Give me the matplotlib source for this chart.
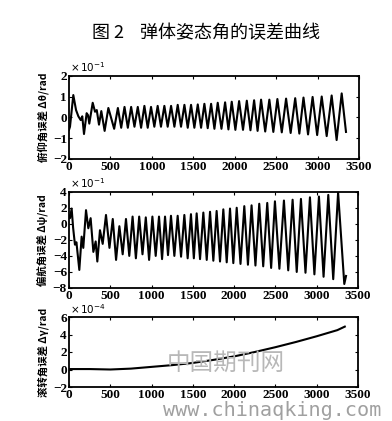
import matplotlib
matplotlib.use("Agg")
import matplotlib.pyplot as plt
import numpy as np

plt.rcParams['font.family'] = ['Noto Sans CJK SC', 'DejaVu Sans']

# ---------------- data ----------------
# Pitch error (x 10^-1 rad): early transient, then peaks / troughs
pitch_early_x = [0, 12, 52, 85, 113, 141, 160, 181, 213, 230, 245, 286, 314, 335, 362, 390, 430]
pitch_early_y = [-0.6, -0.45, 1.07, 0.35, 0.05, -0.13, 0.05, -0.8, 0.2, 0.1, -0.3, 0.7, 0.27, 0.35, -0.35, 0.3, -0.65]
pitch_peak_x = [475, 590, 670, 750, 830, 910, 990, 1070, 1151, 1232, 1312, 1393, 1473, 1554, 1634,
                1715, 1795, 1884, 1964, 2053, 2146, 2234, 2318, 2418, 2515, 2620, 2730, 2830, 2940,
                3050, 3170, 3291]
pitch_peak_y = [0.45, 0.45, 0.5, 0.5, 0.5, 0.55, 0.5, 0.55, 0.55, 0.55, 0.6, 0.6, 0.6, 0.62, 0.65,
                0.65, 0.7, 0.72, 0.75, 0.78, 0.8, 0.82, 0.85, 0.85, 0.88, 0.9, 0.92, 0.95, 0.98,
                1.0, 1.05, 1.15]
pitch_trough_x = [545, 630, 710, 790, 870, 950, 1030, 1110, 1191, 1272, 1352, 1433, 1513, 1594, 1674,
                  1755, 1840, 1924, 2008, 2100, 2190, 2276, 2368, 2466, 2568, 2675, 2780, 2885, 2995,
                  3110, 3230]
pitch_trough_y = [-0.55, -0.5, -0.5, -0.45, -0.5, -0.5, -0.45, -0.45, -0.45, -0.45, -0.45, -0.5, -0.5,
                  -0.5, -0.52, -0.55, -0.55, -0.58, -0.6, -0.6, -0.62, -0.65, -0.68, -0.7, -0.72,
                  -0.75, -0.78, -0.82, -0.85, -0.9, -1.09]
pitch_end_x = [3343]
pitch_end_y = [-0.7]

# Yaw error (x 10^-1 rad)
yaw_early_x = [0, 12, 32, 50, 72, 90, 125, 153, 173, 206, 234, 262, 295, 323, 343, 375, 408]
yaw_early_y = [1.0, 0.7, 1.9, -0.5, -2.6, -2.3, -5.75, -1.6, -3.0, 1.7, -0.56, 0.7, -3.5, -2.2, -4.7, -0.8, -2.5]
yaw_peak_x = [448, 530, 610, 690, 770, 850, 930, 1010, 1090, 1163, 1235, 1316, 1397, 1477, 1546,
              1627, 1708, 1788, 1869, 1950, 2031, 2123, 2211, 2304, 2401, 2494, 2603, 2708, 2809,
              2918, 3027, 3140, 3259]
yaw_peak_y = [1.1, 0.6, -0.3, 0.6, 0.9, 0.9, 0.8, 0.9, 0.9, 0.9, 1.0, 1.0, 1.1, 1.2, 1.3,
              1.4, 1.5, 1.6, 1.8, 1.9, 2.0, 2.2, 2.3, 2.5, 2.6, 2.8, 2.9, 3.0, 3.1,
              3.3, 3.4, 3.6, 3.9]
yaw_trough_x = [490, 570, 650, 730, 810, 890, 970, 1050, 1127, 1199, 1276, 1357, 1437, 1512, 1587,
                1668, 1748, 1829, 1910, 1990, 2077, 2167, 2258, 2352, 2448, 2548, 2655, 2758, 2864,
                2972, 3083, 3200, 3334]
yaw_trough_y = [-3.0, -4.5, -3.8, -4.0, -4.3, -3.8, -4.5, -4.0, -4.4, -3.9, -4.0, -4.1, -4.3, -4.3,
                -4.4, -4.5, -4.6, -4.7, -4.8, -4.9, -5.0, -5.1, -5.2, -5.3, -5.5, -5.6, -5.8, -6.0,
                -6.1, -6.3, -6.6, -6.9, -7.5]
yaw_end_x = [3355]
yaw_end_y = [-6.5]

# Roll error (x 10^-4 rad)
roll_x = [0, 250, 500, 750, 1000, 1250, 1500, 1750, 2000, 2250, 2500, 2750, 3000, 3250, 3340]
roll_y = [0.05, 0.05, 0.0, 0.1, 0.3, 0.5, 0.75, 1.1, 1.5, 2.0, 2.55, 3.15, 3.8, 4.5, 4.9]

x_ticks = [0, 500, 1000, 1500, 2000, 2500, 3000, 3500]
title = "图 2    弹体姿态角的误差曲线"
ylabels = ["俯仰角误差 Δθ/rad", "偏航角误差 Δψ/rad", "滚转角误差 Δγ/rad"]
exps = [r"$\times\,10^{-1}$", r"$\times\,10^{-1}$", r"$\times\,10^{-4}$"]


def combine(ex, ey, px, py, tx, ty, zx, zy):
    xs = list(ex) + list(px) + list(tx) + list(zx)
    ys = list(ey) + list(py) + list(ty) + list(zy)
    order = np.argsort(xs, kind="stable")
    return np.array(xs)[order], np.array(ys)[order]


pitch_x, pitch_y = combine(pitch_early_x, pitch_early_y, pitch_peak_x, pitch_peak_y,
                           pitch_trough_x, pitch_trough_y, pitch_end_x, pitch_end_y)
yaw_x, yaw_y = combine(yaw_early_x, yaw_early_y, yaw_peak_x, yaw_peak_y,
                       yaw_trough_x, yaw_trough_y, yaw_end_x, yaw_end_y)

fig = plt.figure(figsize=(3.92, 4.21), dpi=100)
fig.patch.set_facecolor("white")

W, H = 392.0, 421.0
boxes = [(69, 359, 75.7, 159), (69, 358, 191.7, 288), (69, 358, 317, 387)]
axes = []
for (l, r, t, b) in boxes:
    ax = fig.add_axes([l / W, 1 - b / H, (r - l) / W, (b - t) / H])
    axes.append(ax)

series = [(pitch_x, pitch_y), (yaw_x, yaw_y), (roll_x, roll_y)]
ylims = [(-2, 2), (-8, 4), (-2, 6)]
yticks = [[-2, -1, 0, 1, 2], [-8, -6, -4, -2, 0, 2, 4], [-2, 0, 2, 4, 6]]

tick_font = dict(family="Liberation Serif", weight="bold", size=9.5)
for ax, (sx, sy), yl, yt, lab, ex in zip(axes, series, ylims, yticks, ylabels, exps):
    ax.plot(sx, sy, color="black", lw=1.5, solid_joinstyle="round")
    ax.set_xlim(0, 3500)
    ax.set_ylim(*yl)
    ax.set_xticks(x_ticks)
    ax.set_yticks(yt)
    ax.set_xticklabels([str(v) for v in x_ticks], fontdict=tick_font)
    ax.set_yticklabels([("−" + str(-v)) if v < 0 else str(v) for v in yt], fontdict=tick_font)
    ax.tick_params(direction="in", length=2.5, width=0.8, pad=1.5, top=True, right=True)
    for s in ax.spines.values():
        s.set_linewidth(1.3)
    ax.set_ylabel(lab, fontsize=7.5, fontweight="bold", labelpad=3)
    ax.text(0.005, 1.02, ex, transform=ax.transAxes, fontsize=7.5, ha="left", va="bottom",
            family="DejaVu Sans")

fig.text(206 / W, 1 - 33 / H, title, ha="center", va="center", fontsize=13)

# watermarks
fig.text(226 / W, 1 - 363 / H, "中国期刊网", ha="center", va="center", fontsize=17,
         color="#b8b8b8")
fig.text(163 / W, 1 - 410 / H, "www.chinaqking.com", ha="left", va="center", fontsize=14.5,
         color="#a0a0a0", family="DejaVu Sans Mono")

fig.savefig("out.png", dpi=100, facecolor="white")
